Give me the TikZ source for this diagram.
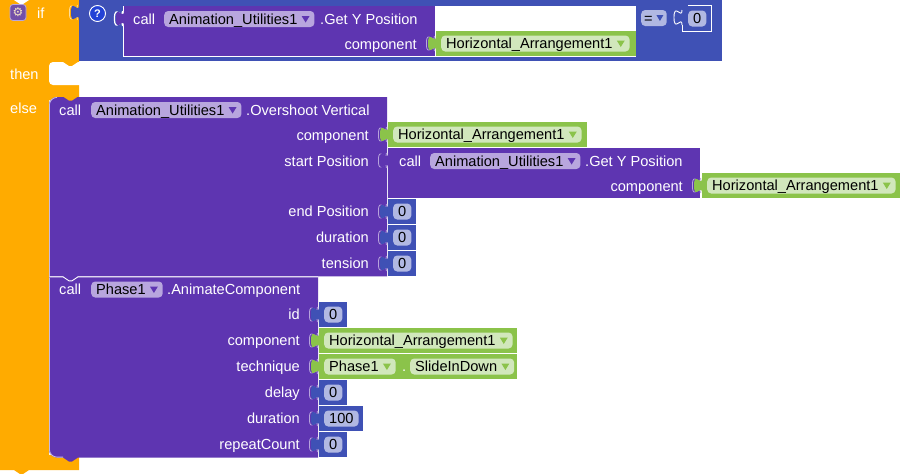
\documentclass[tikz,border=0pt]{standalone}
\usepackage{fontspec}
\setmainfont{Liberation Sans}
\newfontfamily\symfont{DejaVu Sans}
\usetikzlibrary{calc}
\definecolor{orng}{HTML}{FFAB00}
\definecolor{purp}{HTML}{5E35B1}
\definecolor{blu}{HTML}{3F51B5}
\definecolor{grn}{HTML}{8BC34A}
\definecolor{ppillc}{HTML}{B8A6DE}
\definecolor{gpillc}{HTML}{D1E7BC}
\definecolor{bpillc}{HTML}{B1B8E2}
\definecolor{qblue}{HTML}{2342D6}
\definecolor{gearbg}{HTML}{7250A8}
\definecolor{gearfg}{HTML}{F2E3C4}

\newcommand\tabcurve[2]{({#1},{#2+5}) .. controls ({#1},{#2+15}) and ({#1-8},{#2-3}) .. ({#1-8},{#2+12.5}) .. controls ({#1-8},{#2+28}) and ({#1},{#2+10}) .. ({#1},{#2+20})}
\newcommand\childtab[3]{\fill[#3] ({#1+1},{#2+5}) -- \tabcurve{#1}{#2} -- ({#1+1},{#2+20}) -- cycle;}
\newcommand\inhl[3]{\draw[#3, line width=0.8pt] \tabcurve{#1-1.6}{#2};}
\newcommand\dd[6]{\node[#5, anchor=west] (#1) at ({#2},{#3}) {#4\kern12pt};
  \fill[#6] ($(#1.east)+(-13,-3)$) -- ++(8,0) -- ++(-4,6.5) -- cycle;}
\newcommand\numblk[5]{\childtab{#2}{#3}{blu}\fill[blu] (#2,#3) rectangle ({#2+#4},{#3+25});
  \node[bpill, anchor=west] (#1) at ({#2+5},{#3+12.5}) {#5};}
\newcommand\compblk[4]{\childtab{#2}{#3}{grn}\fill[grn] (#2,#3) rectangle ({#2+#4},{#3+25});
  \dd{#1}{#2+5}{#3+12.5}{Horizontal\_Arrangement1}{gpill}{grn}}

\begin{document}
\begin{tikzpicture}[x=1pt,y=-1pt,
  every node/.style={font=\fontsize{14.6}{17}\selectfont},
  lbl/.style={text=white, inner sep=0pt, text height=11pt, text depth=1pt},
  pillbase/.style={rounded corners=4pt, inner xsep=5pt, inner ysep=0pt, minimum height=16pt, text height=11pt, text depth=1pt, text=black},
  ppill/.style={pillbase, fill=ppillc},
  gpill/.style={pillbase, fill=gpillc},
  bpill/.style={pillbase, fill=bpillc}]
\useasboundingbox (0,0) rectangle (900,474);
\clip (0,0) rectangle (900,474);

% ---------- orange if/then/else block ----------
\fill[orng] (0,-5) -- (79,-5) -- (79,100) -- (49,100) -- (49,455) -- (79,455) -- (79,470) -- (29,470) -- (23,474) -- (20,474) -- (14,470) -- (0,470) -- cycle;
\fill[white] (14,-1) -- (14,0) -- (20,4) -- (23,4) -- (29,0) -- (29,-1) -- cycle;
\fill[white] (80,62) -- (78,62) -- (72,66) -- (69,66) -- (63,62) -- (53,62) .. controls (50.8,62) and (49,63.8) .. (49,66) -- (49,81) .. controls (49,83.2) and (50.8,85) .. (53,85) -- (80,85) -- cycle;
\node[fill=gearbg, draw=ppillc, line width=0.8pt, rounded corners=3pt, minimum size=16pt, inner sep=0pt, text=gearfg, font=\symfont\fontsize{12}{12}\selectfont] (gear) at (18,12.5) {⚙};
\node[lbl, anchor=west] (lif) at (37,13) {if};
\node[lbl, anchor=west] (lthen) at (10,74) {then};
\node[lbl, anchor=west] (lelse) at (10,108.5) {else};

% ---------- blue compare block ----------
\inhl{79}{0}{orng!40!white}
\childtab{79}{0}{blu}
\fill[blu] (79,-5) rectangle (722,61);
\node[circle, fill=qblue, draw=white, line width=0.9pt, minimum size=16pt, inner sep=0pt, text=white, font=\bfseries\fontsize{11}{11}\selectfont] (help) at (97.5,13.5) {?};
\fill[white] (123,6) rectangle (636,57);
\draw[white, line width=1.2pt] \tabcurve{122.5}{6};
\childtab{124}{6}{purp}
\fill[purp] (124,6) rectangle (435,56);
\node[lbl, anchor=west] (c1) at (133,19) {call};
\dd{au1}{164}{19}{Animation\_Utilities1}{ppill}{purp}
\node[lbl, anchor=west] (gy1) at (320,19) {.Get Y Position};
\node[lbl, anchor=east] (cp1) at (417,44) {component};
\inhl{436}{31}{purp!45!white}
\compblk{h1}{436}{31}{200}
\node[pillbase, fill=bpillc, inner xsep=3pt, anchor=west] (eq) at (641,18) {=\kern11pt};
\fill[blu] ($(eq.east)+(-10.5,-3)$) -- ++(7,0) -- ++(-3.5,6) -- cycle;
\draw[white, line width=0.9pt] (682,25) .. controls (682,15) and (674,33) .. (674,17.5) .. controls (674,2) and (682,20) .. (682,10);
\draw[white, line width=0.9pt] (688,5.5) -- (711.5,5.5) -- (711.5,31.5) -- (682,31.5) -- (682,25);
\node[bpill, anchor=west] (n0) at (688,18.5) {0};

% ---------- purple statement blocks ----------
\fill[purp] (49,276.5) -- (318,276.5) -- (318,457.5) -- (78,457.5) -- (72,461.5) -- (69,461.5) -- (63,457.5) -- (57,457.5) .. controls (52.6,457.5) and (49,453.9) .. (49,449.5) -- cycle;
\fill[purp] (49,105) .. controls (49,100.6) and (52.6,97) .. (57,97) -- (387,97) -- (387,276.3) -- (78,276.3) -- (72,280.3) -- (69,280.3) -- (63,276.3) -- (49,276.3) -- cycle;
\fill[orng] (63,96.5) -- (69,100.5) -- (72,100.5) -- (78,96.5) -- cycle;
\draw[white, line width=0.9pt] (49,276.8) -- (63,276.8) -- (69,280.8) -- (72,280.8) -- (78,276.8) -- (318,276.8);
\draw[purp!35!white, line width=0.8pt] (49.4,276) -- (49.4,105) .. controls (49.4,100.8) and (52.8,97.4) .. (57,97.4);
\draw[purp!35!white, line width=0.8pt] (49.4,277.5) -- (49.4,449.5) .. controls (49.4,453.7) and (52.8,457.1) .. (57,457.1) -- (63,457.1);

% Overshoot Vertical
\node[lbl, anchor=west] (c2) at (59,110) {call};
\dd{au2}{91}{110}{Animation\_Utilities1}{ppill}{purp}
\node[lbl, anchor=west] (ov) at (246,110) {.Overshoot Vertical};
\node[lbl, anchor=east] (cp2) at (369,135) {component};
\node[lbl, anchor=east] (sp) at (369,161) {start Position};
\node[lbl, anchor=east] (ep) at (369,211.5) {end Position};
\node[lbl, anchor=east] (du1) at (369,237.5) {duration};
\node[lbl, anchor=east] (te) at (369,263.5) {tension};
\inhl{388}{122}{purp!45!white}
\compblk{h2}{388}{122}{199}
\inhl{388}{148}{purp!45!white}
\childtab{388}{148}{purp}
\fill[purp] (388,148) rectangle (700,198);
\node[lbl, anchor=west] (c3) at (399,161) {call};
\dd{au3}{430}{161}{Animation\_Utilities1}{ppill}{purp}
\node[lbl, anchor=west] (gy3) at (585,161) {.Get Y Position};
\node[lbl, anchor=east] (cp3) at (683,186) {component};
\inhl{702}{173}{purp!45!white}
\compblk{h3}{702}{173}{200}
\inhl{388}{199}{purp!45!white}
\numblk{n1}{388}{199}{28}{0}
\inhl{388}{225}{purp!45!white}
\numblk{n2}{388}{225}{28}{0}
\inhl{388}{251}{purp!45!white}
\numblk{n3}{388}{251}{28}{0}

% AnimateComponent
\node[lbl, anchor=west] (c4) at (59,289.5) {call};
\dd{ph1}{91}{289.5}{Phase1}{ppill}{purp}
\node[lbl, anchor=west] (ac) at (167,289.5) {.AnimateComponent};
\node[lbl, anchor=east] (lid) at (300,314.5) {id};
\node[lbl, anchor=east] (cp4) at (300,340.5) {component};
\node[lbl, anchor=east] (tq) at (300,366.5) {technique};
\node[lbl, anchor=east] (dl) at (300,392.5) {delay};
\node[lbl, anchor=east] (du2) at (300,418.5) {duration};
\node[lbl, anchor=east] (rc) at (300,444.5) {repeatCount};
\inhl{319}{302}{purp!45!white}
\numblk{n4}{319}{302}{28}{0}
\inhl{319}{328}{purp!45!white}
\compblk{h4}{319}{328}{198}
\inhl{319}{354}{purp!45!white}
\childtab{319}{354}{grn}
\fill[grn] (319,354) rectangle (517,379);
\dd{ph2}{324}{366.5}{Phase1}{gpill}{grn}
\node[lbl, anchor=west] (dot) at ($(ph2.east)+(6,0)$) {.};
\dd{sid}{410}{366.5}{SlideInDown}{gpill}{grn}
\inhl{319}{380}{purp!45!white}
\numblk{n5}{319}{380}{28}{0}
\inhl{319}{406}{purp!45!white}
\numblk{n6}{319}{406}{44}{100}
\inhl{319}{432}{purp!45!white}
\numblk{n7}{319}{432}{28}{0}
\end{tikzpicture}
\end{document}
